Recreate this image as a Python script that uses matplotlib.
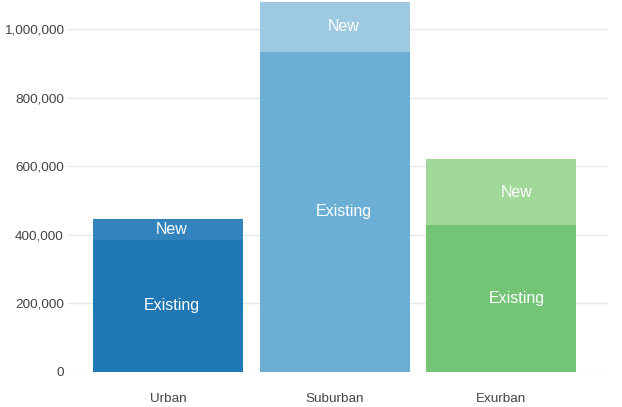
import matplotlib.pyplot as plt
from matplotlib.ticker import FuncFormatter

categories = ["Urban", "Suburban", "Exurban"]
existing = [386000, 934000, 428000]
new = [60000, 146000, 192000]

existing_colors = ["#1f77b4", "#6baed6", "#74c476"]
new_colors = ["#3383bd", "#9ecae1", "#a1d99b"]

plt.rcParams['font.family'] = ['Liberation Sans', 'DejaVu Sans']

fig = plt.figure(figsize=(6.22, 4.07), dpi=100)
ax = fig.add_axes([68 / 622, 35 / 407, 540 / 622, 372 / 407])

x = list(range(len(categories)))
ax.bar(x, existing, width=0.9, color=existing_colors, zorder=2)
ax.bar(x, new, width=0.9, bottom=existing, color=new_colors, zorder=2)

# the in-bar labels sit a little right of the bar centres in the original
for i in x:
    lx = 0.021 + i * 1.035
    ax.text(lx, existing[i] / 2, "Existing", ha="center", va="center",
            color="white", fontsize=11.5, zorder=3)
    ax.text(lx, existing[i] + new[i] / 2, "New", ha="center", va="center",
            color="white", fontsize=11.5, zorder=3)

ax.set_xlim(-0.6, 2.64)
ax.set_ylim(0, 1085000)
ax.set_yticks([0, 200000, 400000, 600000, 800000, 1000000])
ax.yaxis.set_major_formatter(FuncFormatter(lambda v, p: f"{int(v):,}"))
ax.set_xticks(x)
ax.set_xticklabels(categories)

ax.grid(axis="y", color="#e8e8e8", linewidth=1, zorder=0)
for s in ax.spines.values():
    s.set_visible(False)
ax.tick_params(axis="both", length=0, colors="#444444", labelsize=9.7)
ax.tick_params(axis="x", pad=15)
ax.tick_params(axis="y", pad=3)

fig.savefig("out.png", dpi=100)
